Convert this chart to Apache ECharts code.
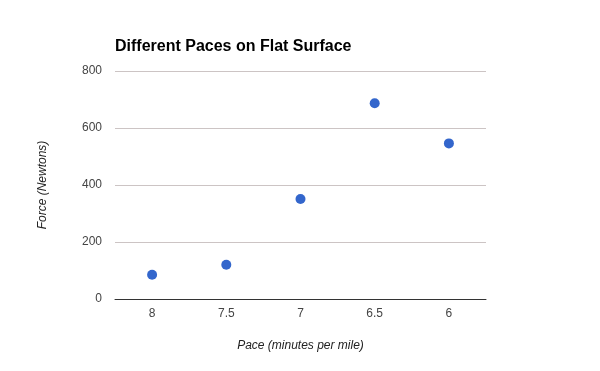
<!DOCTYPE html>
<html><head><meta charset="utf-8">
<script src="https://cdn.jsdelivr.net/npm/echarts@6/dist/echarts.min.js"></script>
<style>html,body{margin:0;padding:0;background:#fff}#c{width:600px;height:371px}</style>
</head><body><div id="c"></div>
<script>
const categories = ['8', '7.5', '7', '6.5', '6'];
const forceValues = [85, 120, 351, 687, 546];
const yTicks = [0, 200, 400, 600, 800];

const chart = echarts.init(document.getElementById('c'));
chart.setOption({
  animation: false,
  backgroundColor: '#fff',
  title: {
    text: 'Different Paces on Flat Surface',
    left: 110, top: 34,
    textStyle: { fontFamily: 'Liberation Sans, Arial', fontSize: 16, fontWeight: 'bold', color: '#000' }
  },
  grid: { left: 115, right: 114, top: 71, bottom: 72 },
  xAxis: {
    type: 'category',
    data: categories,
    boundaryGap: true,
    name: 'Pace (minutes per mile)',
    nameLocation: 'middle',
    nameGap: 41,
    nameTextStyle: { fontFamily: 'Liberation Sans, Arial', fontSize: 12, fontStyle: 'italic', color: '#222' },
    axisLine: { lineStyle: { color: '#333', width: 1 } },
    axisTick: { show: false },
    axisLabel: { fontFamily: 'Liberation Sans, Arial', fontSize: 12, color: '#444', margin: 9 }
  },
  yAxis: {
    type: 'value',
    min: yTicks[0], max: yTicks[yTicks.length - 1], interval: 200,
    name: 'Force (Newtons)',
    nameLocation: 'middle',
    nameGap: 66,
    nameTextStyle: { fontFamily: 'Liberation Sans, Arial', fontSize: 12, fontStyle: 'italic', color: '#222' },
    axisLine: { show: false },
    axisTick: { show: false },
    splitLine: { lineStyle: { color: '#ccc4c4', width: 1 } },
    axisLabel: { fontFamily: 'Liberation Sans, Arial', fontSize: 12, color: '#444', margin: 13, padding: [2, 0, 0, 0] }
  },
  series: [{
    type: 'scatter',
    data: forceValues,
    symbolSize: 10,
    itemStyle: { color: '#3366cc', opacity: 1 }
  }]
});
</script></body></html>
